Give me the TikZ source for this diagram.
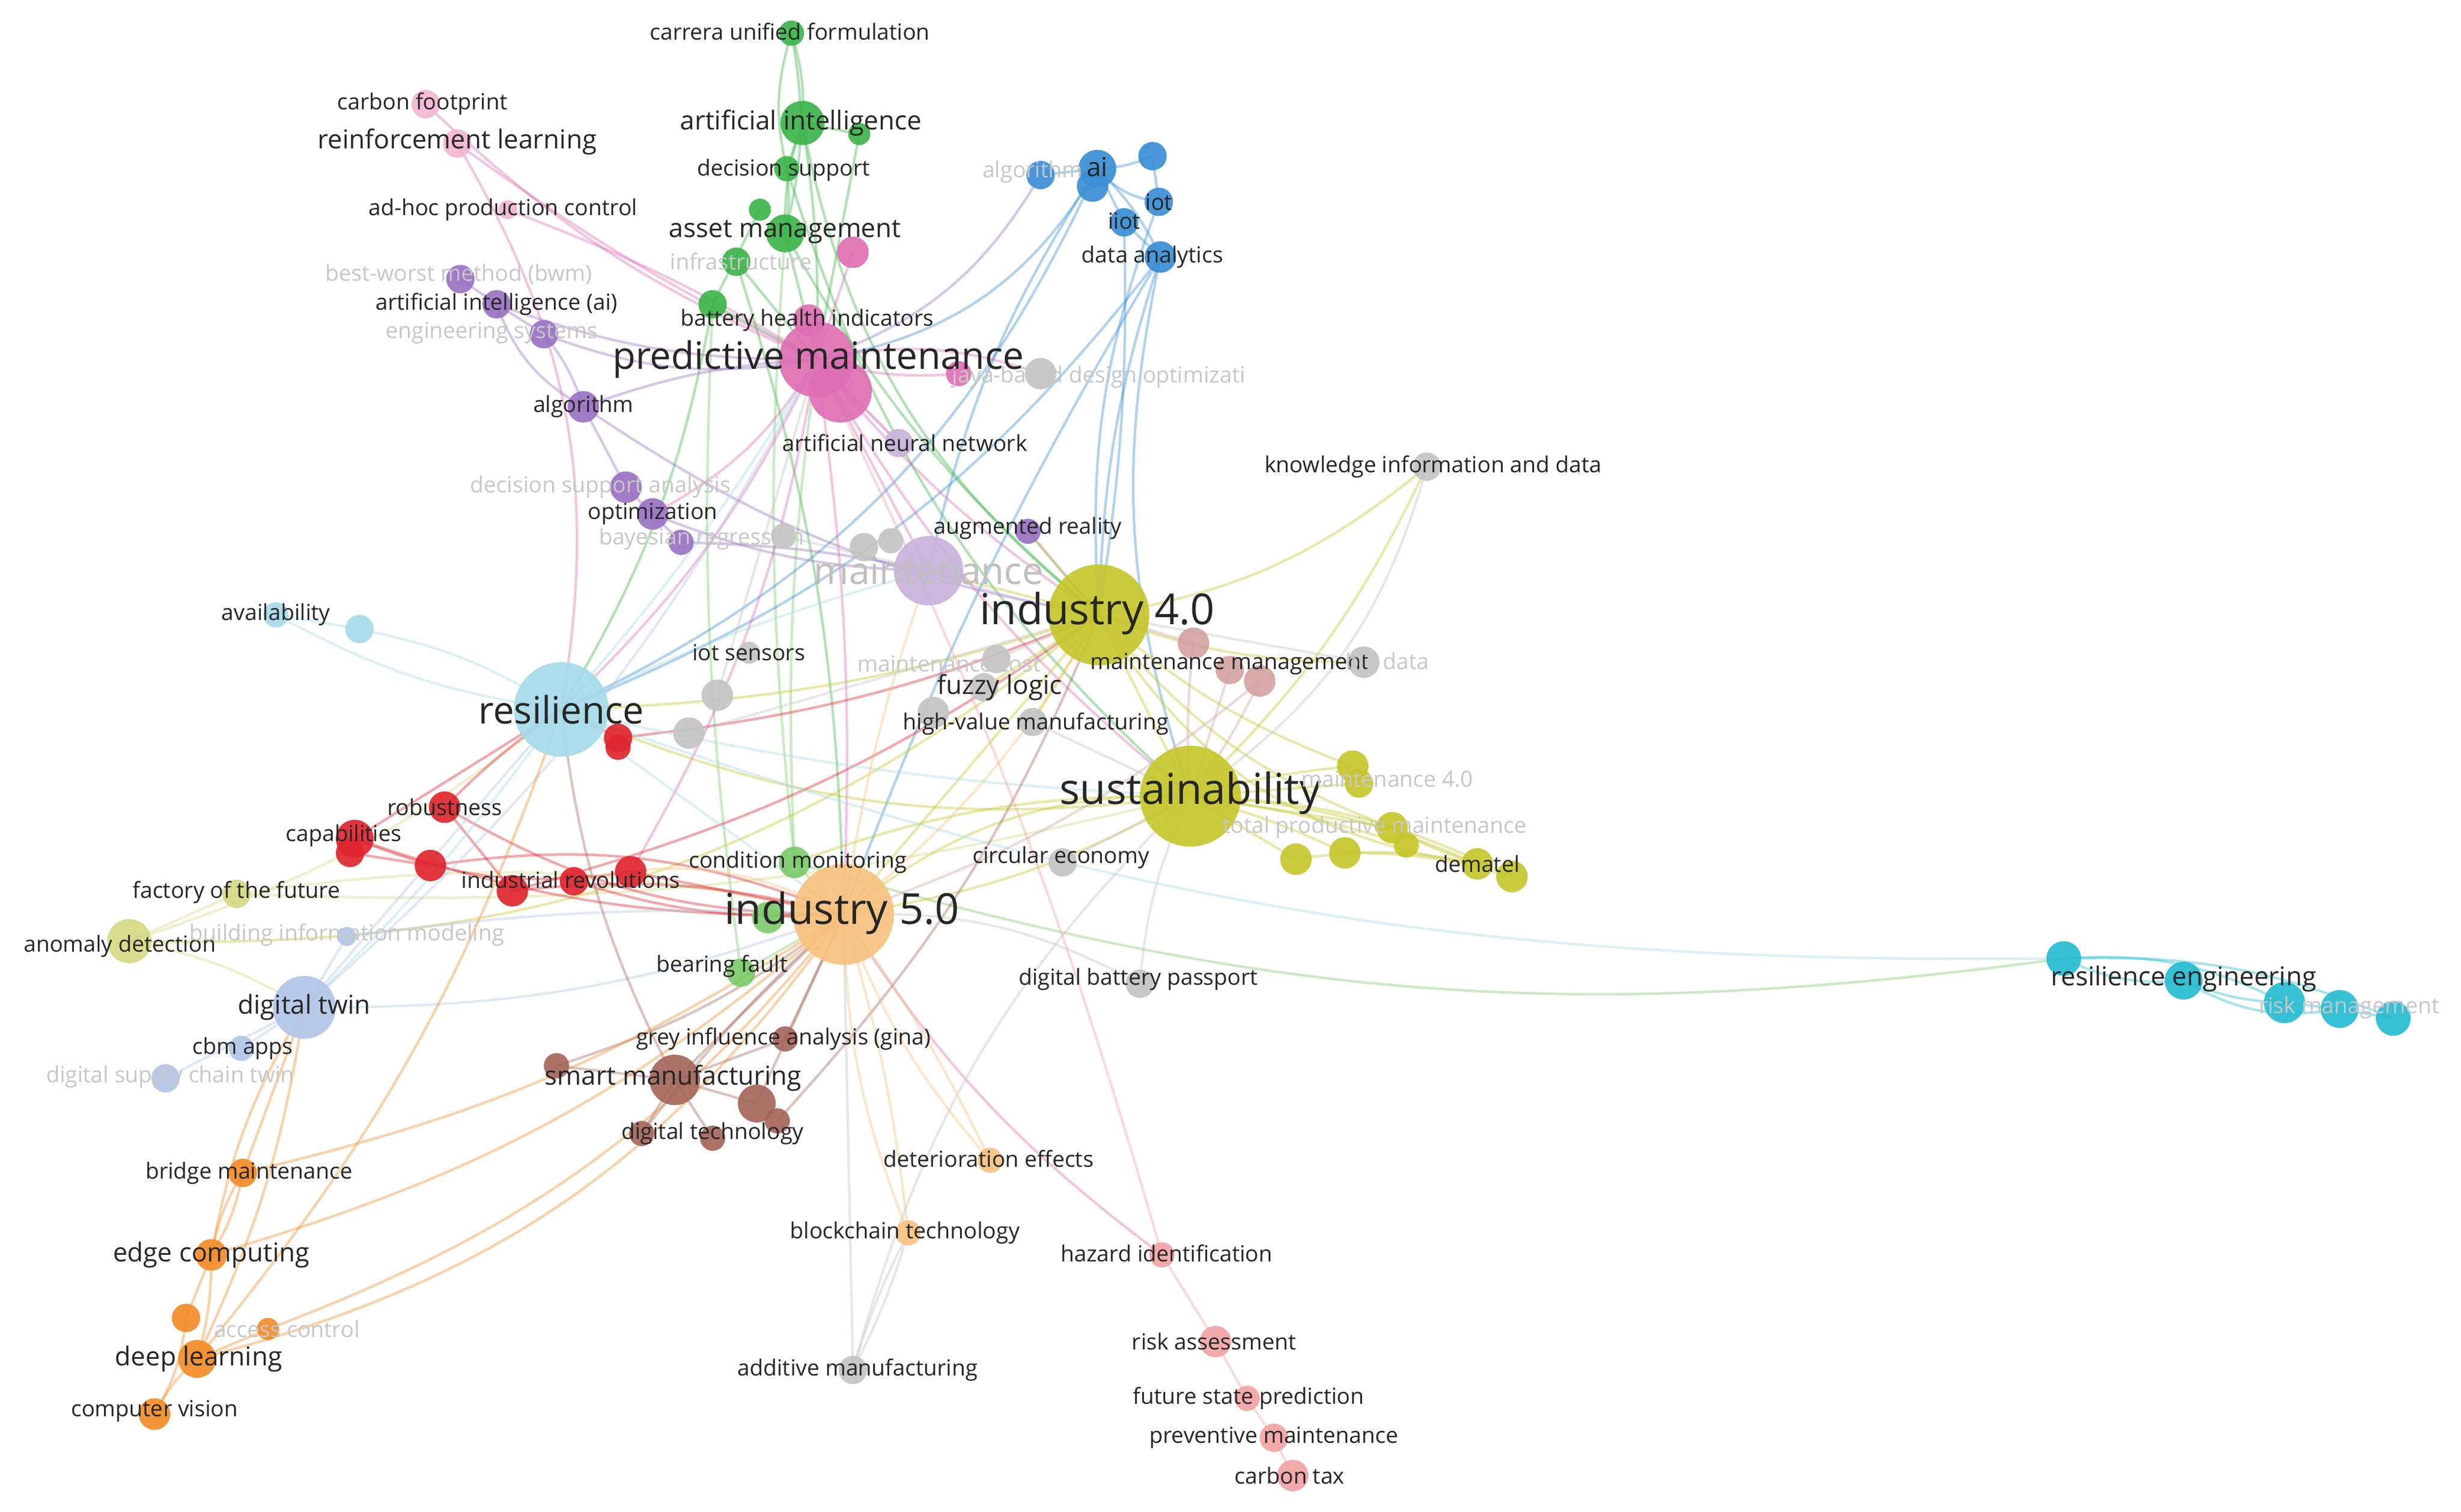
\documentclass[tikz,border=0pt]{standalone}
\usepackage{fontspec}
\setmainfont{Open Sans}
\definecolor{cgreen}{HTML}{3DB54A}
\definecolor{clgreen}{HTML}{7CCB6A}
\definecolor{cblue}{HTML}{3A8FD6}
\definecolor{cpurple}{HTML}{9A72C4}
\definecolor{clpurple}{HTML}{C8B3DB}
\definecolor{cpink}{HTML}{DE6FB4}
\definecolor{clpink}{HTML}{F2B6D2}
\definecolor{cgray}{HTML}{C4C4C4}
\definecolor{colive}{HTML}{C6C72C}
\definecolor{clolive}{HTML}{D6D884}
\definecolor{cred}{HTML}{E0252E}
\definecolor{clblue}{HTML}{A6DBEA}
\definecolor{clav}{HTML}{B2C6E8}
\definecolor{cbrown}{HTML}{A5675C}
\definecolor{cmm}{HTML}{D2A3A0}
\definecolor{corange}{HTML}{F28C28}
\definecolor{clorange}{HTML}{F8C27E}
\definecolor{csalmon}{HTML}{F3A3A3}
\definecolor{ccyan}{HTML}{27BCD2}
\tikzset{
 kw/.style={circle,inner sep=0pt,fill=#1,draw=none,fill opacity=.92},
 lnk/.style={draw=#1,line width=0.08mm,draw opacity=.4},
 lbase/.style={inner sep=0pt,text=black!85},
 ls/.style={lbase,font=\fontsize{2.0}{2.0}\selectfont},
 lm/.style={lbase,font=\fontsize{2.35}{2.35}\selectfont},
 ll/.style={lbase,font=\fontsize{2.8}{2.8}\selectfont},
 lx/.style={lbase,font=\fontsize{3.4}{3.4}\selectfont},
 lxx/.style={lbase,font=\fontsize{3.85}{3.85}\selectfont},
 fs/.style={ls,text=black!22},
 fl/.style={lx,text=black!25},
}
\def\nodelist{%
g1/502/21/8/cgreen, g2/509/78/14/cgreen, g2b/545/85/7/cgreen, g3/499/107/8/cgreen, g4/482/133/7/cgreen, g5/498/148/12/cgreen, g6/467/166/9/cgreen, g7/452/193/9/cgreen,
cm/504/547/10/clgreen, cm2/487/582/10/clgreen, bf/470/617/9/clgreen,
cf/270/66/9/clpink, rl/290/91/9/clpink, adh/322/133/6/clpink,
p1/541/160/10/cpink, bhi/513/203/10/cpink, pm2/533/248/20/cpink, pm/518/228/24/cpink, p3/608/237/8/cpink,
jaya/660/237/10/cgray,
algb/660/111/9/cblue, ai2/693/118/10/cblue, ai/696/107/12/cblue, b3/731/99/9/cblue, iot/735/128/9/cblue, iiot/713/141/9/cblue, da/736/163/10/cblue,
bwm/292/177/9/cpurple, aiai/315/193/9/cpurple, eng/345/212/9/cpurple, alg/370/258/10/cpurple, dsa/397/309/10/cpurple, opt/414/326/10/cpurple, bay/432/344/8/cpurple,
ann/570/281/9/clpurple, ar/652/337/8/cpurple, mnt/589/362/22/clpurple,
gy1/497/340/8/cgray, gy2/548/347/9/cgray, gy3/565/343/8/cgray, iots/475/414/7/cgray, gy5/455/441/10/cgray, gy6/437/465/10/cgray,
kid/905/296/9/cgray, bd/865/420/10/cgray, mc/632/418/9/cgray, gy9/624/436/9/cgray, gy10/592/452/10/cgray, hvm/655/458/9/cgray,
ce/674/547/9/cgray, dbp/723/624/9/cgray, am/541/869/9/cgray,
y1/858/486/10/colive, y2/862/497/9/colive, y3/883/525/10/colive, y4/892/536/8/colive, y5/822/545/10/colive, y6/853/541/10/colive, dem/937/548/10/colive, dem2/959/556/10/colive,
fotf/150/567/9/clolive, anom/82/597/14/clolive,
mm1/757/408/10/cmm, mm2/780/425/9/cmm, mm3/799/432/10/cmm,
r1/392/468/9/cred, r2/392/474/8/cred, rob/282/512/10/cred, cap/225/532/12/cred, cap2/222/541/9/cred, r6/273/549/10/cred, ir1/325/565/10/cred, ir2/364/559/9/cred, ir3/400/553/10/cred,
res/356/450/30/clblue, av/175/390/8/clblue, av2/228/399/9/clblue,
bim/220/594/6/clav, dt/193/639/20/clav, cbm/153/665/8/clav, dsct/105/684/9/clav,
gina/498/659/8/cbrown, sm0/353/676/8/cbrown, sm/428/685/16/cbrown, sm2/480/700/12/cbrown, sm3/493/711/8/cbrown, dtech/407/719/8/cbrown, dtech2/452/722/8/cbrown,
i4/697/390/32/colive, sust/755/505/32/colive, i5/535/580/32/clorange,
det/628/736/8/clorange, bc/576/782/8/clorange,
bm/154/744/9/corange, ec/134/796/10/corange, dl2/118/836/9/corange, ac/170/843/7/corange, dl/125/862/12/corange, cv/98/897/10/corange,
haz/737/796/8/csalmon, risk/771/851/10/csalmon, fsp/791/887/8/csalmon, pmv/808/912/9/csalmon, ct/820/936/10/csalmon,
cy1/1309/608/11/ccyan, cy2/1385/622/12/ccyan, cy3/1449/636/13/ccyan, cy4/1484/640/12/ccyan, cy5/1518/646/11/ccyan}
\begin{document}
\begin{tikzpicture}[x=0.05mm,y=-0.05mm]
\fill[white] (0,0) rectangle (1561,959);
\useasboundingbox (0,0) rectangle (1561,959);
\foreach \n/\x/\y/\r/\c in \nodelist {\coordinate (\n) at (\x,\y);}
% edges
\foreach \a/\b/\c/\k in {
g1/g2/cgreen/10, g1/g3/cgreen/-15, g1/g5/cgreen/12, g2/g3/cgreen/0, g2/g2b/cgreen/0, g2/g5/cgreen/-10, g3/g5/cgreen/8, g2/pm/cgreen/5, g5/pm/cgreen/0, g6/pm/cgreen/0, g7/pm/cgreen/0, g2/i4/cgreen/-20, g5/i4/cgreen/-10, g7/res/cgreen/10, g3/sust/cgreen/-15, g6/i5/cgreen/8, g4/g7/cgreen/0, g2b/pm/cgreen/0,
cm/i5/clgreen/0, cm/pm/clgreen/5, bf/i5/clgreen/0, cm2/i5/clgreen/0, g5/cm/clgreen/-5, bf/g7/clgreen/5, cm/cy1/clgreen/-12,
ai/algb/cblue/0, ai/iot/cblue/-20, ai/iiot/cblue/0, ai/da/cblue/10, ai/b3/cblue/-10, b3/iot/cblue/0, iiot/da/cblue/0, algb/pm/cpurple/20, ai/pm/cblue/25, ai/mnt/cblue/-10, da/i4/cblue/-8, iot/i4/cblue/-12, iiot/i4/cblue/5, da/res/cblue/15, ai/res/cblue/20, da/i5/cblue/-5, da/sust/cblue/-15,
bwm/aiai/cpurple/0, aiai/eng/cpurple/0, eng/alg/cpurple/10, alg/dsa/cpurple/0, dsa/opt/cpurple/0, opt/bay/cpurple/0, aiai/pm/cpurple/-10, eng/pm/cpurple/-15, alg/pm/cpurple/8, opt/mnt/cpurple/-10, bay/mnt/cpurple/5, alg/i4/cpurple/-12, aiai/alg/cpurple/-20, ar/i4/cpurple/0, ann/pm/clpurple/0, mnt/i4/clpurple/-5,
cf/pm/cpink/-10, rl/pm/cpink/-5, adh/pm/cpink/5, p1/pm/cpink/0, bhi/pm/cpink/0, pm/ann/cpink/0, pm/mnt/cpink/0, pm/i4/cpink/-8, pm/res/cpink/10, pm/i5/cpink/5, pm/p3/cpink/-10, pm/jaya/cpink/15, rl/res/cpink/20, i5/haz/cpink/-10, pm/opt/cpink/15, pm/ir3/cpink/10, pm/sust/cpink/-10,
i4/sust/colive/0, i4/y1/colive/-10, i4/y3/colive/-15, i4/dem/colive/-25, i4/kid/colive/-15, i4/i5/colive/0, i4/gy9/colive/0, i4/res/colive/8, i4/anom/colive/20, i4/ar/colive/0, i4/mnt/colive/0, sust/y1/colive/5, sust/y2/colive/0, sust/y3/colive/0, sust/y4/colive/5, sust/y5/colive/0, sust/y6/colive/5, sust/dem/colive/10, sust/dem2/colive/12, y5/dem/colive/10, y6/dem2/colive/8, y3/dem/colive/-5, sust/i5/colive/10, sust/i5/colive/-20, sust/res/colive/15, sust/cm/colive/-10, i4/hvm/colive/0, sust/kid/colive/-10, i4/bd/colive/-10,
fotf/i5/clolive/10, anom/res/clolive/-10, anom/fotf/clolive/0, anom/dt/clolive/10, fotf/sust/clolive/-8,
mm1/i4/cmm/0, mm2/sust/cmm/0, mm3/sust/cmm/5, mm1/sust/cmm/-5, mm3/i5/cmm/10,
r1/res/cred/0, rob/res/cred/5, cap/i5/cred/-10, cap/res/cred/0, ir1/i5/cred/10, ir2/i5/cred/-10, ir3/i5/cred/0, rob/i5/cred/-15, r6/i5/cred/15, r1/i4/cred/-8, cap/ir3/cred/-15, rob/ir1/cred/0, ir1/i4/cred/-10, r6/cap2/cred/0,
av/res/clblue/-10, av2/res/clblue/10, res/i5/clblue/0, res/dt/clblue/5, res/pm/clblue/-5, res/cy1/clblue/-10, res/mnt/clblue/5, av/av2/clblue/0, res/sust/clblue/-5,
dt/i5/clav/-10, cbm/dt/clav/0, dsct/dt/clav/0, bim/dt/clav/0, dt/res/clav/0, dt/pm/clav/-10, bim/i5/clav/5,
sm/i5/cbrown/0, gina/i5/cbrown/0, sm/dtech/cbrown/0, sm/gina/cbrown/0, dtech/i5/cbrown/5, sm/res/cbrown/10, sm0/i5/cbrown/-10, sm0/sm/cbrown/0, sm2/i5/cbrown/0, sm/sm2/cbrown/0, sm3/i4/cbrown/-10, dtech2/sm/cbrown/0,
i5/det/clorange/-10, i5/bc/clorange/5, i5/det/clorange/5, i5/bc/clorange/-10, bm/i5/corange/-10, ec/i5/corange/-12, dl/i5/corange/-20, cv/dl/corange/10, ac/i5/corange/-15, bm/ec/corange/10, bm/ec/corange/-10, ec/dl/corange/8, ec/dl2/corange/0, dl2/cv/corange/12, ac/dl/corange/0, dl/res/corange/-10, bm/dt/corange/0, ec/dt/corange/10, dl/dt/corange/-8, i5/mnt/clorange/5, i5/i4/clorange/-10, ir2/i5/clorange/20,
am/bc/cgray/5, am/bc/cgray/-5, am/i5/cgray/0, dbp/i5/cgray/-15, dbp/sust/cgray/10, ce/sust/cgray/0, kid/sust/cgray/20, bd/i4/cgray/0, mc/i4/cgray/0, hvm/sust/cgray/0, gy5/pm/cgray/0, gy6/i4/cgray/0, gy1/mnt/cgray/0, am/sust/cgray/15,
haz/risk/csalmon/0, risk/fsp/csalmon/0, fsp/pmv/csalmon/0, pmv/ct/csalmon/0, haz/pm/csalmon/-5,
cy1/cy2/ccyan/-15, cy2/cy3/ccyan/-10, cy3/cy4/ccyan/0, cy4/cy5/ccyan/0, cy1/cy3/ccyan/15, cy2/cy4/ccyan/-20, cy1/cy5/ccyan/12}
{\draw[lnk=\c] (\a) to[bend left=\k] (\b);}
% nodes
\foreach \n/\x/\y/\r/\c in \nodelist {\node[kw=\c,minimum size={\r*0.1mm}] (k-\n) at (\n) {};}
% labels
\foreach \x/\y/\t/\s [count=\i] in {
501/20/carrera unified formulation/ls, 268/66/carbon footprint/ls, 508/78/artificial intelligence/lm, 290/90/reinforcement learning/lm, 497/108/decision support/ls, 319/133/ad-hoc production control/ls, 498/147/asset management/lm, 470/166/infrastructure/fs, 291/174/best-worst method (bwm)/fs, 315/193/artificial intelligence (ai)/ls, 312/211/engineering systems/fs, 512/203/battery health indicators/ls, 519/228/predictive maintenance/lx, 370/258/algorithm/ls, 574/281/artificial neural network/ls, 381/309/decision support analysis/fs, 414/326/optimization/ls, 445/342/bayesian regression/fs, 652/335/augmented reality/ls, 589/362/maintenance/fl, 696/389/industry 4.0/lxx, 475/414/iot sensors/ls, 602/421/maintenance cost/fs, 780/421/maintenance management/ls, 634/436/fuzzy logic/lm, 657/459/high-value manufacturing/ls, 356/450/resilience/lx, 175/390/availability/ls, 282/512/robustness/ls, 218/530/capabilities/ls, 755/503/sustainability/lxx, 880/494/maintenance 4.0/fs, 872/525/total productive maintenance/fs, 150/566/factory of the future/ls, 76/600/anomaly detection/ls, 362/558/industrial revolutions/ls, 506/547/condition monitoring/ls, 673/544/circular economy/ls, 937/548/dematel/ls, 220/593/building information modeling/fs, 534/579/industry 5.0/lxx, 193/639/digital twin/lm, 154/665/cbm apps/ls, 108/683/digital supply chain twin/fs, 458/613/bearing fault/ls, 497/659/grey influence analysis (gina)/ls, 722/621/digital battery passport/ls, 427/684/smart manufacturing/lm, 452/719/digital technology/ls, 627/735/deterioration effects/ls, 158/744/bridge maintenance/ls, 574/782/blockchain technology/ls, 740/795/hazard identification/ls, 134/796/edge computing/lm, 182/843/access control/fs, 126/862/deep learning/lm, 98/895/computer vision/ls, 770/851/risk assessment/ls, 544/869/additive manufacturing/ls, 792/887/future state prediction/ls, 808/912/preventive maintenance/ls, 818/936/carbon tax/ls, 1385/621/resilience engineering/lm, 1490/639/risk management/fs, 909/296/knowledge information and data/ls, 880/421/big data/fs, 697/239/jaya-based design optimizati/fs, 655/109/algorithm/fs, 696/106/ai/lm, 713/140/iiot/ls, 735/128/iot/ls, 731/163/data analytics/ls}
{\node[\s] (L\i) at (\x,\y) {\t};}
\end{tikzpicture}
\end{document}
